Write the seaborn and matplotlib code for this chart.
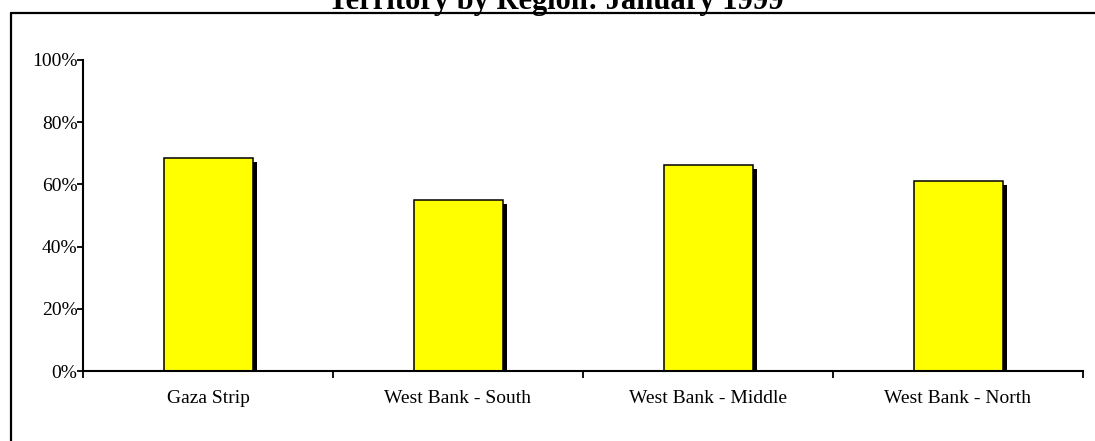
import matplotlib
matplotlib.use("Agg")
import matplotlib.pyplot as plt
import matplotlib.transforms as mtransforms
from matplotlib.lines import Line2D
import seaborn as sns
import pandas as pd

regions = ["Gaza Strip", "West Bank - South", "West Bank - Middle", "West Bank - North"]
share = [68.5, 55.0, 66.2, 61.2]
y_ticks = [0, 20, 40, 60, 80, 100]
y_labels = ["0%", "20%", "40%", "60%", "80%", "100%"]
title = "Territory by Region: January 1999"

df = pd.DataFrame({"region": regions, "share": share})

sns.set_style("white")
plt.rcParams["font.family"] = ["Liberation Serif", "DejaVu Serif"]
plt.rcParams["text.color"] = "black"
plt.rcParams["xtick.color"] = "black"
plt.rcParams["ytick.color"] = "black"

fig = plt.figure(figsize=(10.95, 4.41), dpi=100)
ax = fig.add_axes([83 / 1095, 70 / 441, 1000 / 1095, 311 / 441])

# shadow bars, shifted 4px right and 4px down
sns.barplot(data=df, x="region", y="share", color="black", width=0.356,
            saturation=1, edgecolor="black", linewidth=0, ax=ax)
shadow = mtransforms.ScaledTranslation(4 / 100, -4 / 100, fig.dpi_scale_trans)
for p in list(ax.patches):
    p.set_transform(ax.transData + shadow)

sns.barplot(data=df, x="region", y="share", color="#FFFF00", width=0.356,
            saturation=1, edgecolor="black", linewidth=1.1, ax=ax)

ax.set_xlim(-0.5, 3.5)
ax.set_ylim(0, 100)
ax.set_yticks(y_ticks)
ax.set_yticklabels(y_labels, fontsize=14)
ax.set_xticks([-0.5, 0.5, 1.5, 2.5, 3.5])
ax.set_xticklabels([])
ax.set_xticks(range(len(regions)), minor=True)
ax.set_xticklabels(regions, minor=True, fontsize=14)
ax.tick_params(axis="x", which="major", direction="out", length=5, width=1.3, color="black", bottom=True)
ax.tick_params(axis="x", which="minor", length=0, pad=14)
ax.tick_params(axis="y", direction="out", length=4, width=1.3, color="black", left=True, pad=0)
ax.set_xlabel("")
ax.set_ylabel("")
for side in ["top", "right"]:
    ax.spines[side].set_visible(False)
for side in ["left", "bottom"]:
    ax.spines[side].set_color("black")
    ax.spines[side].set_linewidth(1.5)

# outer chart frame
fig.add_artist(Line2D([11 / 1095, 11 / 1095], [0, 428 / 441], color="black", lw=1.6))
fig.add_artist(Line2D([11 / 1095, 1], [428 / 441, 428 / 441], color="black", lw=1.6))

fig.text(556 / 1095, 432 / 441, title, ha="center", va="baseline",
         fontsize=22, fontweight="bold")

fig.savefig("out.png", dpi=100)
